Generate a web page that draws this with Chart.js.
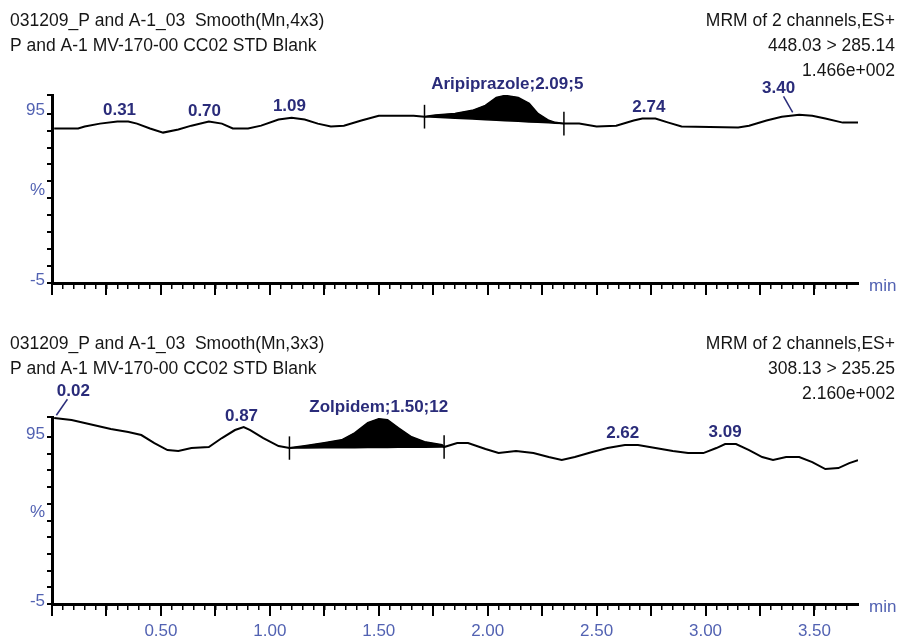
<!DOCTYPE html>
<html><head><meta charset="utf-8">
<script src="https://cdn.jsdelivr.net/npm/chart.js@4.4.1/dist/chart.umd.min.js"></script>
<style>
html,body{margin:0;padding:0;background:#fff;}
body{width:901px;height:641px;overflow:hidden;position:relative;}
canvas{position:absolute;left:0;}
</style></head>
<body>
<canvas id="c1" width="901" height="320" style="top:0px"></canvas>
<canvas id="c2" width="901" height="320" style="top:320px"></canvas>
<script>
// ---------- data ----------
const topTime  = [0.01,0.12,0.15,0.22,0.30,0.35,0.39,0.45,0.51,0.58,0.64,0.72,0.78,0.83,0.90,0.96,1.04,1.10,1.16,1.22,1.28,1.34,1.42,1.50,1.66,1.71,1.76,1.85,1.93,1.99,2.04,2.08,2.14,2.19,2.23,2.28,2.31,2.35,2.42,2.50,2.59,2.67,2.71,2.77,2.83,2.89,3.15,3.20,3.28,3.35,3.43,3.49,3.55,3.63,3.70];
const topValue = [86.2,86.2,87.4,89.1,90.3,90.3,89.1,86.2,83.8,85.6,87.9,90.3,89.1,86.2,86.2,87.9,91.5,92.6,91.5,89.1,87.4,87.9,90.9,93.8,93.8,93.2,94.0,95.0,96.8,99.7,104.4,105.6,104.4,100.9,95.0,90.9,89.7,89.1,89.1,87.4,87.9,90.9,92.1,92.1,89.7,87.4,86.8,87.9,90.9,93.2,94.4,93.8,92.1,89.7,89.7];
const botTime  = [0.01,0.09,0.19,0.27,0.35,0.41,0.47,0.53,0.58,0.64,0.72,0.78,0.84,0.88,0.91,0.97,1.04,1.09,1.16,1.25,1.33,1.39,1.45,1.50,1.54,1.59,1.65,1.71,1.79,1.80,1.86,1.91,1.99,2.05,2.13,2.21,2.28,2.34,2.40,2.48,2.55,2.63,2.69,2.77,2.85,2.92,2.99,3.05,3.09,3.14,3.20,3.26,3.31,3.37,3.43,3.49,3.55,3.61,3.66,3.70];
const botValue = [106.4,105.2,102.2,99.8,98.0,96.2,91.4,87.2,86.6,88.4,89.0,94.4,99.2,101.0,99.2,94.4,89.6,88.4,89.6,91.4,93.2,97.4,103.4,105.8,105.2,100.4,95.0,92.0,90.2,89.0,91.4,91.4,87.8,85.4,86.6,85.4,83.0,81.2,83.0,86.0,88.4,90.2,90.2,88.4,86.6,85.4,85.4,88.4,90.8,90.8,87.2,83.0,81.2,83.0,83.0,80.0,75.8,76.4,79.4,81.2];

const topIntegration = [1.71, 2.35];
const botIntegration = [1.09, 1.80];

const topPeakText = ['0.31','0.70','1.09','Aripiprazole;2.09;5','2.74','3.40'];
const topPeakTime = [0.31,0.70,1.09,2.09,2.74,3.40];
const botPeakText = ['0.02','0.87','Zolpidem;1.50;12','2.62','3.09'];
const botPeakTime = [0.02,0.87,1.50,2.62,3.09];

const topHeaderLeft  = ['031209_P and A-1_03  Smooth(Mn,4x3)','P and A-1 MV-170-00 CC02 STD Blank'];
const topHeaderRight = ['MRM of 2 channels,ES+','448.03 > 285.14','1.466e+002'];
const botHeaderLeft  = ['031209_P and A-1_03  Smooth(Mn,3x3)','P and A-1 MV-170-00 CC02 STD Blank'];
const botHeaderRight = ['MRM of 2 channels,ES+','308.13 > 235.25','2.160e+002'];

const yTickValues = [-5,5,15,25,35,45,55,65,75,85,95];
const yTickLabels = {'95':'95','-5':'-5'};
const xMajorStep = 0.25, xMinorStep = 0.05, xLabelStep = 0.5;
const xMin = 0, xMax = 3.70, yMin = -5;

// ---------- style ----------
const FONT = '"Liberation Sans", Arial, sans-serif';
const AXIS_BLUE = '#5262b2';
const LABEL_NAVY = '#2a2c7a';
const leaderStyle = { top: {'3.40': {dx:-14, lift:22}}, bot: {'0.02': {dx:17, lift:22}} };

function interp(ts, vs, t){
  if (t <= ts[0]) return vs[0];
  for (let i=1;i<ts.length;i++){
    if (t <= ts[i]){ const f=(t-ts[i-1])/(ts[i]-ts[i-1]); return vs[i-1]+f*(vs[i]-vs[i-1]); }
  }
  return vs[vs.length-1];
}
function range(a,b,s){ const r=[]; for(let v=a; v<=b+1e-9; v+=s) r.push({value: Math.round(v*1000)/1000}); return r; }

function makePanel(canvasId, ts, vs, integ, peakText, peakTime, hLeft, hRight, showXLabels, yMax, padTop, xAxisH, leaders, headerBase){
  const trace = ts.map((t,i)=>({x:t,y:vs[i]}));
  const b0 = interp(ts,vs,integ[0]), b1 = interp(ts,vs,integ[1]);
  const peakPts = [{x:integ[0], y:b0}];
  ts.forEach((t,i)=>{ if (t>integ[0] && t<integ[1]) peakPts.push({x:t,y:vs[i]}); });
  peakPts.push({x:integ[1], y:b1});
  const basePts = peakPts.map(p=>({x:p.x, y: b0 + (p.x-integ[0])/(integ[1]-integ[0])*(b1-b0)}));
  const mk = (t,b)=>[{x:t,y:b-7},{x:t,y:b+7}];

  const textPlugin = {
    id:'txt'+canvasId,
    afterDraw(chart){
      const ctx = chart.ctx, xs = chart.scales.x, ys = chart.scales.y, ca = chart.chartArea;
      ctx.save();
      ctx.fillStyle = '#161616';
      ctx.font = '17.5px '+FONT;
      ctx.textBaseline = 'alphabetic';
      ctx.textAlign = 'left';
      hLeft.forEach((s,i)=>ctx.fillText(s, 10, headerBase + i*25));
      ctx.textAlign = 'right';
      hRight.forEach((s,i)=>ctx.fillText(s, 895, headerBase + i*25));
      ctx.fillStyle = AXIS_BLUE;
      ctx.font = '17px '+FONT;
      ctx.textAlign = 'right'; ctx.textBaseline = 'middle';
      ctx.fillText('%', 45, ys.getPixelForValue(50));
      ctx.textAlign = 'left';
      ctx.fillText('min', 869, ca.bottom + 3);
      ctx.fillStyle = LABEL_NAVY;
      ctx.strokeStyle = LABEL_NAVY;
      ctx.lineWidth = 1.5;
      ctx.font = 'bold 17px '+FONT;
      ctx.textAlign = 'center'; ctx.textBaseline = 'alphabetic';
      peakText.forEach((s,i)=>{
        const t = peakTime[i];
        const px = xs.getPixelForValue(t), py = ys.getPixelForValue(interp(ts,vs,t));
        const ld = leaders[s];
        if (ld){
          ctx.fillText(s, px+ld.dx, py-ld.lift);
          ctx.beginPath();
          ctx.moveTo(px+ld.dx*0.65, py-ld.lift+3);
          ctx.lineTo(px, py-3);
          ctx.stroke();
        } else {
          ctx.fillText(s, px, py-7);
        }
      });
      ctx.restore();
    }
  };

  return new Chart(document.getElementById(canvasId), {
    type:'line',
    data:{ datasets:[
      {data:trace, borderColor:'#000', borderWidth:2, pointRadius:0, tension:0, fill:false},
      {data:basePts, borderColor:'#000', borderWidth:1.5, pointRadius:0, tension:0, fill:false},
      {data:peakPts, borderColor:'#000', borderWidth:1, pointRadius:0, tension:0, backgroundColor:'#000', fill:{target:1, above:'#000', below:'#000'}},
      {data:mk(integ[0],b0), borderColor:'#000', borderWidth:1.5, pointRadius:0, fill:false},
      {data:mk(integ[1],b1), borderColor:'#000', borderWidth:1.5, pointRadius:0, fill:false}
    ]},
    options:{
      responsive:false, animation:false, events:[],
      layout:{padding:{left:0,right:43,top:padTop,bottom:0}},
      plugins:{legend:{display:false}, tooltip:{enabled:false}},
      scales:{
        xm:{type:'linear', min:xMin, max:xMax, position:'bottom', weight:0,
          afterBuildTicks:s=>{ s.ticks = range(xMin, 3.65, xMinorStep); },
          ticks:{display:false},
          grid:{drawOnChartArea:false, drawTicks:true, tickLength:6, color:'#000', lineWidth:1.5},
          border:{display:false},
          afterFit:s=>{ s.height = 0; }
        },
        x:{type:'linear', min:xMin, max:xMax, position:'bottom', weight:1,
          afterBuildTicks:s=>{ s.ticks = range(xMin, 3.5, xMajorStep); },
          ticks:{autoSkip:false, maxRotation:0, padding:5, color:AXIS_BLUE, font:{family:FONT, size:17},
            callback:v=>{ if(!showXLabels||v<=0) return ''; const q=v/xLabelStep; return Math.abs(q-Math.round(q))<1e-6 ? v.toFixed(2) : ''; }},
          grid:{drawOnChartArea:false, drawTicks:true, tickLength:12, color:'#000', lineWidth:2},
          border:{display:true, color:'#000', width:3},
          afterFit:s=>{ s.height = xAxisH; }
        },
        y:{type:'linear', min:yMin, max:yMax, position:'left',
          afterBuildTicks:s=>{ s.ticks = yTickValues.map(v=>({value:v})).concat([{value:yMax}]); },
          ticks:{autoSkip:false, padding:2, labelOffset:-3, color:AXIS_BLUE, font:{family:FONT, size:17},
            callback:v=> (yTickLabels[String(v)] || '')},
          grid:{drawOnChartArea:false, drawTicks:true, tickLength:5, color:'#000', lineWidth:2},
          border:{display:true, color:'#000', width:3},
          afterFit:s=>{ s.width = 52; }
        }
      }
    },
    plugins:[textPlugin]
  });
}

makePanel('c1', topTime, topValue, topIntegration, topPeakText, topPeakTime, topHeaderLeft, topHeaderRight, false, 106, 95, 37, leaderStyle.top, 26);
makePanel('c2', botTime, botValue, botIntegration, botPeakText, botPeakTime, botHeaderLeft, botHeaderRight, true, 107, 97, 36, leaderStyle.bot, 29);
</script>
</body></html>
